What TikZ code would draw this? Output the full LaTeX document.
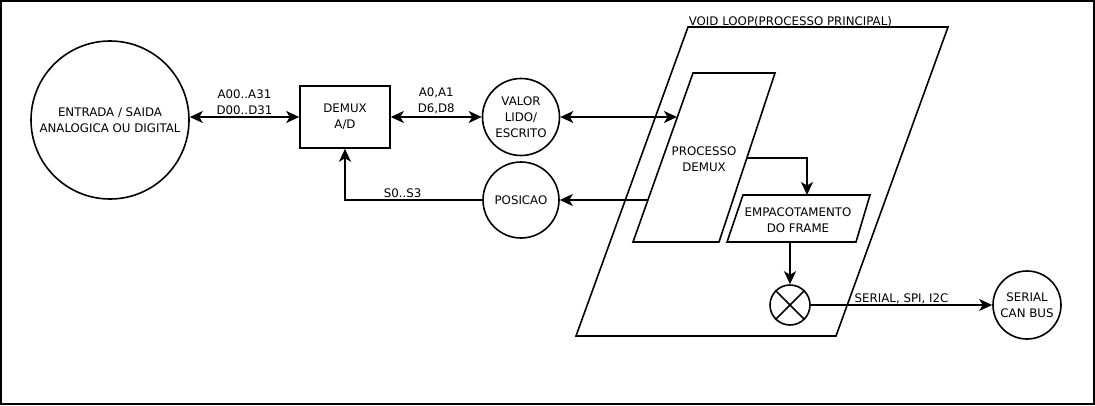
\documentclass[tikz,border=0pt]{standalone}
\usepackage{fontspec}
\setmainfont{DejaVu Sans}
\usetikzlibrary{arrows.meta,positioning}

\begin{document}
\begin{tikzpicture}[x=1pt, y=-1pt,
    line width=1.6pt,
    every node/.style={font=\fontsize{11.8}{16}\selectfont},
    blockcirc/.style={circle, draw, align=center, inner sep=0pt},
    demuxbox/.style={rectangle, draw, align=center, minimum width=90pt, minimum height=62pt},
    lbl/.style={align=center, inner sep=1pt},
    flow/.style={-{Stealth[length=13pt, width=12pt, inset=3.5pt]}},
    biflow/.style={{Stealth[length=13pt, width=12pt, inset=3.5pt]}-{Stealth[length=13pt, width=12pt, inset=3.5pt]}},
]
\useasboundingbox (0,0) rectangle (1095,405);
\draw[line width=2pt] (1,1) rectangle (1094,404);

% left side blocks
\node[blockcirc, minimum size=158pt] (io) at (110,120) {ENTRADA / SAIDA\\ANALOGICA OU DIGITAL};
\node[demuxbox] (demux) at (345,117) {DEMUX\\A/D};
\node[blockcirc, minimum size=77pt] (valor) at (521,117) {VALOR\\LIDO/\\ESCRITO};
\node[blockcirc, minimum size=76pt] (posicao) at (521,200) {POSICAO};

% main loop
\draw (576,336) -- (836,336) -- (948,27) -- (688,27) -- cycle;
\node[anchor=base west, inner sep=0pt] (looptitle) at (688,25) {VOID LOOP(PROCESSO PRINCIPAL)};
\draw (633,242) -- (719,242) -- (775,73) -- (693,73) -- cycle;
\node[lbl] (procdemux) at (704,159) {PROCESSO\\DEMUX};
\draw (727,242) -- (856,242) -- (870,195) -- (743,195) -- cycle;
\node[lbl] (frame) at (798,220) {EMPACOTAMENTO\\DO FRAME};
\coordinate (procin) at (677,117);
\coordinate (procout) at (648,200);
\coordinate (procright) at (747,158);
\coordinate (framein) at (807,195);
\coordinate (frameout) at (790,242);

% output
\node[circle, draw, minimum size=40pt] (mixer) at (790,305) {};
\draw (mixer.north west) -- (mixer.south east) (mixer.north east) -- (mixer.south west);
\node[blockcirc, minimum size=68pt] (canbus) at (1027,305) {SERIAL\\CAN BUS};

% connectors
\draw[biflow] (demux.west -| io.east) -- (demux.west) node[midway, above=1pt, lbl] {A00..A31\\D00..D31};
\draw[biflow] (demux.east) -- (valor.west) node[midway, above=1pt, lbl] {A0,A1\\D6,D8};
\draw[biflow] (valor.east) -- (procin);
\draw[flow] (procout) -- (posicao.east);
\draw[flow] (posicao.west) -| (demux.south) node[pos=0.29, above=1pt, lbl] {S0..S3};
\draw[flow] (procright) -| (framein);
\draw[flow] (frameout) -- (mixer.north);
\draw[flow] (mixer.east) -- (canbus.west) node[pos=0.235, anchor=south west, inner sep=0.5pt] {SERIAL, SPI, I2C};
\end{tikzpicture}
\end{document}
